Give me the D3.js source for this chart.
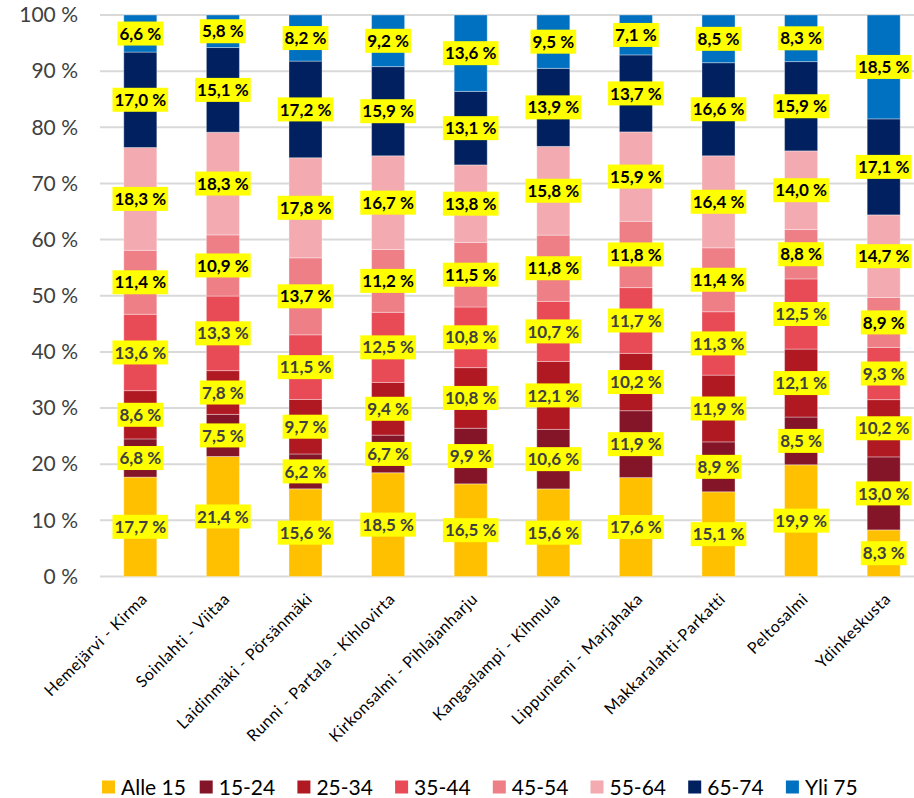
<!DOCTYPE html>
<html>
<head>
<meta charset="utf-8">
<script src="https://cdn.jsdelivr.net/npm/d3@7"></script>
<style>
  body { margin: 0; background: #fff; }
  svg { display: block; font-family: Lato, "Open Sans", sans-serif; }
</style>
</head>
<body>
<div id="chart"></div>
<script>
var chart_width  = 914;
var chart_height = 798;

// Data
var areas = [
    'Hemejärvi - Kirma', 'Soinlahti - Viitaa', 'Laidinmäki - Pörsänmäki',
    'Runni - Partala - Kihlovirta', 'Kirkonsalmi - Pihlajanharju', 'Kangaslampi - Kihmula',
    'Lippuniemi - Marjahaka', 'Makkaralahti-Parkatti', 'Peltosalmi', 'Ydinkeskusta'
];
var age_groups = ['Alle 15', '15-24', '25-34', '35-44', '45-54', '55-64', '65-74', 'Yli 75'];
var alle15 = [17.7, 21.4, 15.6, 18.5, 16.5, 15.6, 17.6, 15.1, 19.9, 8.3];
var a15_24 = [6.8, 7.5, 6.2, 6.7, 9.9, 10.6, 11.9, 8.9, 8.5, 13.0];
var a25_34 = [8.6, 7.8, 9.7, 9.4, 10.8, 12.1, 10.2, 11.9, 12.1, 10.2];
var a35_44 = [13.6, 13.3, 11.5, 12.5, 10.8, 10.7, 11.7, 11.3, 12.5, 9.3];
var a45_54 = [11.4, 10.9, 13.7, 11.2, 11.5, 11.8, 11.8, 11.4, 8.8, 8.9];
var a55_64 = [18.3, 18.3, 17.8, 16.7, 13.8, 15.8, 15.9, 16.4, 14.0, 14.7];
var a65_74 = [17.0, 15.1, 17.2, 15.9, 13.1, 13.9, 13.7, 16.6, 15.9, 17.1];
var yli75  = [6.6, 5.8, 8.2, 9.2, 13.6, 9.5, 7.1, 8.5, 8.3, 18.5];
var y_ticks = [0, 0.1, 0.2, 0.3, 0.4, 0.5, 0.6, 0.7, 0.8, 0.9, 1];

var series_values = [alle15, a15_24, a25_34, a35_44, a45_54, a55_64, a65_74, yli75];
var colors = ['#FFC000', '#841427', '#B01822', '#E84A56', '#EE7F86', '#F3AAB0', '#002060', '#0070C0'];

// table for d3.stack
var rows = areas.map(function(a, i) {
    var r = {area: a};
    age_groups.forEach(function(g, j) { r[g] = series_values[j][i]; });
    return r;
});

var stacked = d3.stack()
    .keys(age_groups)
    .offset(d3.stackOffsetExpand)(rows);

var svg = d3.select('#chart')
    .append('svg')
    .attr('width', chart_width)
    .attr('height', chart_height);

// Scales
var x_scale = d3.scaleBand()
    .domain(areas)
    .range([99, 925])
    .paddingInner(0.6)
    .paddingOuter(0.3);

var y_scale = d3.scaleLinear()
    .domain([0, 1])
    .range([576.5, 15]);

var fmt = function(v) { return v.toFixed(1).replace('.', ',') + ' %'; };

// Gridlines
svg.append('g')
    .selectAll('line')
    .data(y_ticks)
    .enter()
    .append('line')
    .attr('x1', 100)
    .attr('x2', 914)
    .attr('y1', d => y_scale(d))
    .attr('y2', d => y_scale(d))
    .attr('stroke', '#D9D9D9')
    .attr('stroke-width', 2);

// Y axis labels
var y_axis = d3.axisLeft(y_scale)
    .tickValues(y_ticks)
    .tickSize(0)
    .tickPadding(0)
    .tickFormat(d => Math.round(d * 100) + ' %');

svg.append('g')
    .attr('class', 'y-axis')
    .attr('transform', 'translate(78, 0)')
    .call(y_axis)
    .call(g => g.select('.domain').remove())
    .selectAll('text')
    .attr('font-size', 21)
    .attr('font-family', 'Lato, sans-serif')
    .attr('fill', '#404040');

// Bars
var layers = svg.append('g')
    .selectAll('g')
    .data(stacked)
    .enter()
    .append('g')
    .attr('fill', (d, i) => colors[i]);

layers.selectAll('rect')
    .data(d => d)
    .enter()
    .append('rect')
    .attr('x', d => x_scale(d.data.area))
    .attr('width', x_scale.bandwidth())
    .attr('y', d => y_scale(d[1]))
    .attr('height', d => y_scale(d[0]) - y_scale(d[1]))
    .attr('stroke', 'rgba(255,255,255,0.35)')
    .attr('stroke-width', 1);

// Data labels
var labels = svg.append('g');
stacked.forEach(function(layer, i) {
    layer.forEach(function(d, k) {
        var cx = x_scale(d.data.area) + x_scale.bandwidth() / 2;
        var cy = y_scale((d[0] + d[1]) / 2);
        var g = labels.append('g');
        var box = g.append('rect').attr('fill', '#FFFF00');
        var t = g.append('text')
            .attr('x', cx)
            .attr('y', cy)
            .attr('dy', '0.36em')
            .attr('text-anchor', 'middle')
            .attr('font-size', 17)
            .attr('font-weight', 'bold')
            .attr('fill', i < 4 ? '#404040' : '#000')
            .text(fmt(series_values[i][k]));
        var w = t.node().getComputedTextLength() + 4;
        box.attr('x', cx - w / 2)
            .attr('y', cy - 12)
            .attr('width', w)
            .attr('height', 24);
    });
});

// X axis labels (rotated)
svg.append('g')
    .selectAll('text')
    .data(areas)
    .enter()
    .append('text')
    .attr('transform', d => `translate(${x_scale(d) + x_scale.bandwidth() / 2 + 8}, 600) rotate(-45)`)
    .attr('text-anchor', 'end')
    .attr('font-size', 16)
    .attr('letter-spacing', 0.6)
    .attr('fill', '#000')
    .text(d => d);

// Legend
var legend = svg.append('g')
    .selectAll('g')
    .data(age_groups)
    .enter()
    .append('g')
    .attr('transform', (d, i) => `translate(${102 + i * 97.7}, 787)`);

legend.append('rect')
    .attr('x', 0)
    .attr('y', -6.5)
    .attr('width', 13)
    .attr('height', 13)
    .attr('fill', (d, i) => colors[i]);

legend.append('text')
    .attr('x', 19)
    .attr('y', 0)
    .attr('dy', '0.36em')
    .attr('font-size', 21)
    .attr('fill', '#000')
    .text(d => d);
</script>
</body>
</html>
